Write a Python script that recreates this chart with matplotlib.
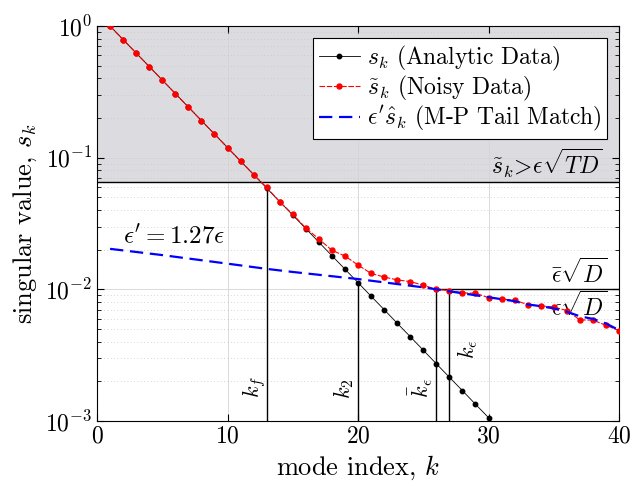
import numpy as np
import matplotlib
matplotlib.use("Agg")
import matplotlib.pyplot as plt

plt.rcParams['font.family'] = 'cmr10'
plt.rcParams['mathtext.fontset'] = 'cm'
plt.rcParams['axes.formatter.use_mathtext'] = True

# ----------------------------------------------------------------------
#     singular values: analytic, noisy and the M-P tail estimate
# ----------------------------------------------------------------------
k_analytic = list(range(1, 31))
s_analytic = [1.0, 0.7896, 0.6235, 0.4923, 0.3887, 0.3069, 0.2423, 0.1913,
              0.1511, 0.1193, 0.0942, 0.0744, 0.0587, 0.0464, 0.0366, 0.0289,
              0.0228, 0.0180, 0.01423, 0.01124, 0.00887, 0.00701, 0.00553,
              0.00437, 0.00345, 0.00272, 0.00215, 0.00170, 0.00134, 0.00106]

k_noisy = list(range(1, 41))
s_noisy = [1.0, 0.787, 0.6235, 0.4923, 0.3887, 0.3069, 0.2423, 0.1913,
           0.1511, 0.1193, 0.0942, 0.0744, 0.0596, 0.0461, 0.0372, 0.0292,
           0.0241, 0.0198, 0.0179, 0.0153, 0.0132, 0.0124, 0.0118, 0.01145,
           0.01075, 0.0100, 0.00978, 0.0094, 0.00934, 0.00865, 0.00845,
           0.00826, 0.00766, 0.00748, 0.00735, 0.00689, 0.00586, 0.00583,
           0.00533, 0.00486]

k_tail = [1, 5, 10, 13, 15, 20, 25, 26, 30, 31, 32, 33, 34, 35, 36, 37, 38, 39, 40]
s_tail = [0.0203, 0.0182, 0.01567, 0.0143, 0.01355, 0.01197, 0.01035, 0.0100,
          0.00871, 0.00841, 0.00813, 0.00767, 0.00745, 0.00716, 0.00676,
          0.00624, 0.00596, 0.0055, 0.0049]

thresh_TD = 0.0654      # eps*sqrt(TD)
thresh_D = 0.0100       # epsbar*sqrt(D)

k_f, k_2, kbar_eps, k_eps = 13, 20, 26, 27
top_kf = 0.0596
top_k2 = 0.01124

fig = plt.figure(figsize=(6.32, 4.91), dpi=100)
ax = fig.add_axes([0.1535, 0.1426, 0.826, 0.8044])

ax.axhspan(thresh_TD, 1.0, facecolor='#dcdbdf', edgecolor='none', zorder=0.2)
ax.axhline(thresh_TD, color='k', lw=1.0, zorder=2)

ax.plot(k_analytic, s_analytic, '-', color='k', lw=0.6, marker='o', ms=3.2,
        label=r'$s_k$ (Analytic Data)', zorder=3)
ax.plot(k_noisy, s_noisy, '--', color='red', lw=0.8, dashes=(5, 1.5), marker='o',
        ms=3.6, label=r'$\tilde{s}_k$ (Noisy Data)', zorder=4)
ax.plot(k_tail, s_tail, '--', color='blue', lw=1.6, dashes=(6, 3),
        label=r"$\epsilon' \hat{s}_k$ (M-P Tail Match)", zorder=5)

# cut-off markers
ax.vlines([k_f, k_2, kbar_eps, k_eps], 1e-3, [top_kf, top_k2, thresh_D, thresh_D],
          color='k', lw=1.0, zorder=2)
ax.hlines(thresh_D, kbar_eps, 40, color='k', lw=1.0, zorder=2)

ax.text(12.0, 0.00182, r'$k_f$', rotation=90, ha='center', va='center', fontsize=16)
ax.text(18.9, 0.00175, r'$k_2$', rotation=90, ha='center', va='center', fontsize=16)
ax.text(24.75, 0.00178, r'$\bar{k}_\epsilon$', rotation=90, ha='center', va='center', fontsize=16)
ax.text(28.4, 0.00353, r'$k_\epsilon$', rotation=90, ha='center', va='center', fontsize=16)
ax.text(2.0, 0.0254, r"$\epsilon' = 1.27\epsilon$", ha='left', va='center', fontsize=18)
ax.text(38.8, 0.068, r'$\tilde{s}_k\!>\!\epsilon\sqrt{TD}$', ha='right', va='bottom', fontsize=17)
ax.text(39.1, 0.0103, r'$\bar{\epsilon}\sqrt{D}$', ha='right', va='bottom', fontsize=17)
ax.text(39.1, 0.0097, r'$\epsilon\sqrt{D}$', ha='right', va='top', fontsize=17)

ax.set_yscale('log')
ax.set_xlim(0, 40)
ax.set_ylim(1e-3, 1)
ax.set_xticks([0, 10, 20, 30, 40])
ax.set_axisbelow(True)
ax.grid(True, which='major', color='#d4d4d4', lw=0.6, ls='-')
ax.grid(True, which='minor', axis='y', color='#c8c8c8', lw=0.6, ls=(0, (1, 3)))
ax.tick_params(which='both', direction='in', top=True, right=True, labelsize=17)
ax.tick_params(which='major', length=5)
ax.tick_params(which='minor', length=3)

ax.set_xlabel('mode index, $k$', fontsize=19)
ax.set_ylabel('singular value, $s_k$', fontsize=19)

leg = ax.legend(loc='upper right', fontsize=17, fancybox=False, framealpha=1,
                edgecolor='k', borderaxespad=0.5, handlelength=1.7,
                handletextpad=0.3, labelspacing=0.05, borderpad=0.25)
leg.get_frame().set_linewidth(0.8)

fig.savefig('out.png', dpi=100)
